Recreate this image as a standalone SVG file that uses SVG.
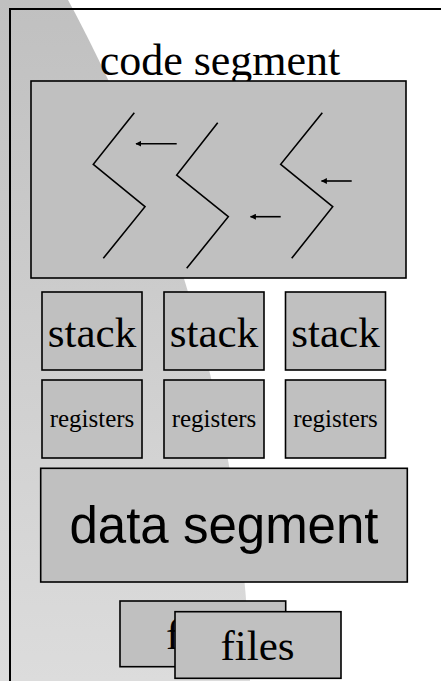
<svg xmlns="http://www.w3.org/2000/svg" width="441" height="681" viewBox="0 0 441 681">
  <defs>
    <linearGradient id="wedgeFill" x1="0" y1="0" x2="0" y2="1">
      <stop offset="0" stop-color="#c0c0c0"/>
      <stop offset="1" stop-color="#dcdcdc"/>
    </linearGradient>
    <marker id="head" viewBox="0 0 10 10" refX="9" refY="5" markerWidth="6" markerHeight="6" orient="auto" markerUnits="userSpaceOnUse">
      <path d="M0,0 L10,5 L0,10 Z" fill="#000"/>
    </marker>
    <style>
      .box { fill: #c0c0c0; stroke: #000; stroke-width: 1.6; }
      .serif { font-family: "Liberation Serif", "Times New Roman", serif; fill: #000; text-anchor: middle; }
      .sans { font-family: "Liberation Sans", Arial, sans-serif; fill: #000; text-anchor: middle; }
      .zig { fill: none; stroke: #000; stroke-width: 1.6; }
      .arrow { stroke: #000; stroke-width: 1.6; }
    </style>
  </defs>

  <!-- page background with curled grey sheet on the left -->
  <rect width="441" height="681" fill="#fff"/>
  <path d="M0,0 L68,0 C150,150 245,400 250,681 L0,681 Z" fill="url(#wedgeFill)"/>

  <!-- outer process frame -->
  <path d="M10,681 L10,9 L441,9" fill="none" stroke="#000" stroke-width="2"/>

  <!-- code segment -->
  <g id="code-segment">
    <text class="serif" x="220" y="75" font-size="44">code segment</text>
    <rect class="box" x="31" y="81" width="375" height="197"/>
  </g>

  <!-- threads of execution -->
  <g id="threads">
    <polyline class="zig" points="134.3,112.7 93.3,164.3 145,206.7 103.3,258.3"/>
    <polyline class="zig" points="217.7,122.7 176.7,175 228.3,216.7 186.7,268.3"/>
    <polyline class="zig" points="322.3,112.7 280.7,164.3 332.7,206.7 291.7,258.3"/>
  </g>
  <g id="connectors">
    <line class="arrow" x1="176.7" y1="143.7" x2="136" y2="143.7" marker-end="url(#head)"/>
    <line class="arrow" x1="280.7" y1="216.7" x2="250.5" y2="216.7" marker-end="url(#head)"/>
    <line class="arrow" x1="351.7" y1="181" x2="321.5" y2="181" marker-end="url(#head)"/>
  </g>

  <!-- per-thread stacks -->
  <g id="stack-1">
    <rect class="box" x="42" y="292" width="100" height="78"/>
    <text class="serif" x="92" y="346.7" font-size="43">stack</text>
  </g>
  <g id="stack-2">
    <rect class="box" x="164" y="292" width="100" height="78"/>
    <text class="serif" x="214" y="346.7" font-size="43">stack</text>
  </g>
  <g id="stack-3">
    <rect class="box" x="285.5" y="292" width="100" height="78"/>
    <text class="serif" x="335.5" y="346.7" font-size="43">stack</text>
  </g>

  <!-- per-thread registers -->
  <g id="registers-1">
    <rect class="box" x="42" y="380" width="100" height="78"/>
    <text class="serif" x="92" y="426.7" font-size="25">registers</text>
  </g>
  <g id="registers-2">
    <rect class="box" x="164" y="380" width="100" height="78"/>
    <text class="serif" x="214" y="426.7" font-size="25">registers</text>
  </g>
  <g id="registers-3">
    <rect class="box" x="285.5" y="380" width="100" height="78"/>
    <text class="serif" x="335.5" y="426.7" font-size="25">registers</text>
  </g>

  <!-- shared data segment -->
  <g id="data-segment">
    <rect class="box" x="40.7" y="468.3" width="366.6" height="113.7"/>
    <text class="sans" x="224" y="542.7" font-size="51">data segment</text>
  </g>

  <!-- open files -->
  <g id="files-back">
    <rect class="box" x="120" y="601" width="165.7" height="65.7"/>
    <text class="serif" x="203" y="649.3" font-size="43">files</text>
  </g>
  <g id="files-front">
    <rect class="box" x="175" y="611.7" width="166" height="66.6"/>
    <text class="serif" x="257.5" y="660" font-size="43">files</text>
  </g>
</svg>
